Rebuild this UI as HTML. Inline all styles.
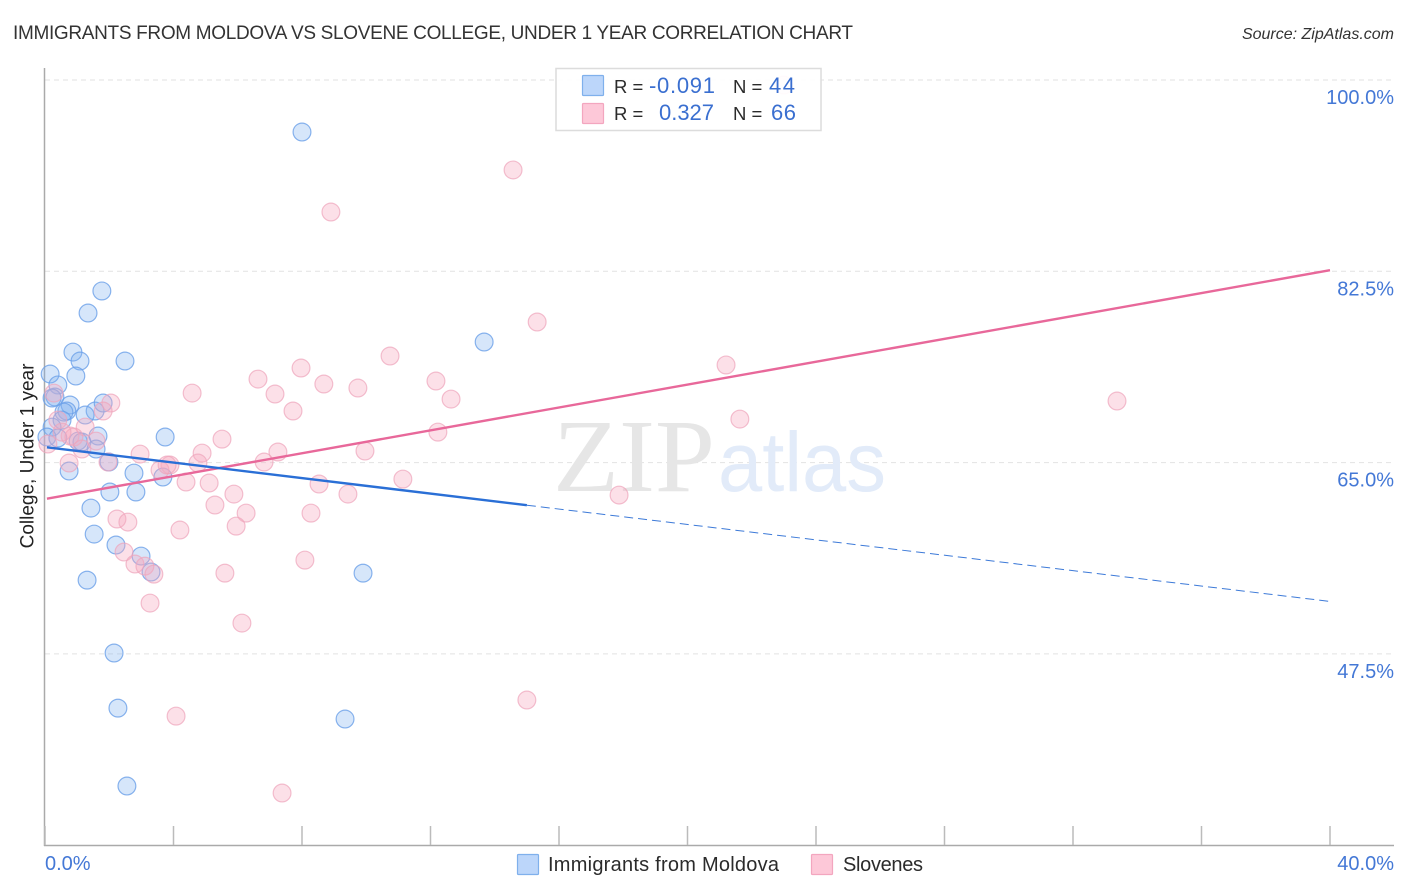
<!DOCTYPE html>
<html lang="en">
<head>
<meta charset="utf-8">
<title>Immigrants from Moldova vs Slovene College, Under 1 Year Correlation Chart</title>
<style>
  html, body { margin: 0; padding: 0; background: #fff; }
  body { width: 1406px; height: 892px; overflow: hidden; font-family: "Liberation Sans", sans-serif; }
  svg { display: block; }
  text { font-family: "Liberation Sans", sans-serif; }
</style>
</head>
<body>
<svg id="chart" width="1406" height="892" viewBox="0 0 1406 892" xmlns="http://www.w3.org/2000/svg">
  <rect x="0" y="0" width="1406" height="892" fill="#ffffff"/>
  <text x="13" y="39" font-size="19" fill="#333333" textLength="840">IMMIGRANTS FROM MOLDOVA VS SLOVENE COLLEGE, UNDER 1 YEAR CORRELATION CHART</text>
  <text x="1394" y="39" font-size="16" font-style="italic" fill="#333" text-anchor="end">Source: ZipAtlas.com</text>

  <g id="grid"></g>

  <g>
    <text x="553" y="491" font-size="104" fill="#e6e6e6" style="font-family:'Liberation Serif',serif" textLength="162" lengthAdjust="spacingAndGlyphs">ZIP</text>
    <text x="718" y="491" font-size="84" fill="#e2ebf9" textLength="168" lengthAdjust="spacingAndGlyphs">atlas</text>
  </g>

  <g id="axes">
    <line x1="44.5" y1="68" x2="44.5" y2="846" stroke="#aaaaaa" stroke-width="1.5"/>
    <line x1="44" y1="845.5" x2="1394" y2="845.5" stroke="#aaaaaa" stroke-width="1.5"/>
  </g>
  <g id="x-ticks"></g>
  <g id="y-labels"></g>
  <g id="x-labels"></g>

  <text transform="translate(33.5,456) rotate(-90)" font-size="19" fill="#222" text-anchor="middle">College, Under 1 year</text>

  <g id="points-moldova"></g>
  <g id="points-slovene"></g>
  <g id="trends"></g>

  <g>
    <rect x="556" y="68.5" width="265" height="62" fill="#ffffff" fill-opacity="0.93" stroke="#dcdcdc" stroke-width="1.5"/>
    <rect x="582.5" y="75.5" width="21" height="20" rx="1" fill="#bcd6fa" stroke="#7fb0ec" stroke-width="1.2"/>
    <rect x="582.5" y="103.5" width="21" height="20" rx="1" fill="#fdc8d8" stroke="#f3a6bf" stroke-width="1.2"/>
    <text x="614" y="93" font-size="18.5" fill="#2b2b2b">R =</text>
    <text x="649" y="93" font-size="22" fill="#3a6fd0" textLength="66">-0.091</text>
    <text x="733" y="93" font-size="18.5" fill="#2b2b2b">N =</text>
    <text x="769" y="93" font-size="22" fill="#3a6fd0" textLength="26">44</text>
    <text x="614" y="120" font-size="18.5" fill="#2b2b2b">R =</text>
    <text x="659" y="120" font-size="22" fill="#3a6fd0" textLength="55">0.327</text>
    <text x="733" y="120" font-size="18.5" fill="#2b2b2b">N =</text>
    <text x="771" y="120" font-size="22" fill="#3a6fd0" textLength="25">66</text>
  </g>

  <g>
    <rect x="517.5" y="854.5" width="21" height="20" rx="1" fill="#bcd6fa" stroke="#7fb0ec" stroke-width="1.2"/>
    <text x="548" y="871" font-size="20" fill="#2b2b2b" textLength="231">Immigrants from Moldova</text>
    <rect x="811.5" y="854.5" width="21" height="20" rx="1" fill="#fdc8d8" stroke="#f3a6bf" stroke-width="1.2"/>
    <text x="843" y="871" font-size="20" fill="#2b2b2b" textLength="80">Slovenes</text>
  </g>
</svg>

<script>
const moldovaX = [8.00,1.77,1.34,0.87,1.09,2.49,0.96,0.16,0.40,0.31,0.78,0.68,0.59,1.56,1.81,1.25,0.53,0.22,1.65,3.74,0.06,0.40,1.03,1.15,1.59,1.99,0.75,2.77,3.67,2.02,2.83,1.43,1.53,2.21,2.99,3.30,1.31,9.90,2.15,2.27,9.34,2.55,13.67,0.22];
const moldovaY = [95.24,80.70,78.68,75.11,74.29,74.29,72.92,73.10,72.10,71.00,70.27,69.72,69.62,69.72,70.45,69.35,68.89,68.25,67.43,67.34,67.34,67.25,66.97,66.88,66.24,65.05,64.23,64.04,63.68,62.31,62.31,60.84,58.46,57.46,56.45,54.99,54.25,54.89,47.58,42.54,41.54,35.41,76.03,70.91];
const sloveneX = [14.57,8.90,15.32,21.20,10.74,7.97,6.63,7.16,8.68,9.74,4.58,12.17,12.64,7.72,33.37,21.63,2.05,1.81,0.28,0.40,1.25,12.23,5.51,7.25,4.89,2.96,9.96,6.82,4.76,3.89,3.58,4.39,5.11,8.53,11.14,9.43,5.88,5.29,6.26,8.28,17.87,2.24,2.58,5.95,4.20,2.46,8.09,2.80,3.11,3.39,5.60,3.27,6.13,15.00,4.08,7.38,0.75,0.09,0.78,0.90,1.15,1.59,1.96,0.53,3.80,23.00];
const sloveneY = [91.77,87.92,77.86,73.93,74.75,73.65,72.64,71.27,72.19,71.82,71.36,72.46,70.81,69.72,70.63,68.98,70.45,69.72,71.36,68.89,68.25,67.79,67.15,65.97,65.87,65.78,66.06,65.05,64.96,64.78,64.32,63.22,63.13,63.04,63.49,62.12,62.12,61.12,60.38,60.38,62.03,59.84,59.56,59.19,58.83,56.82,56.08,55.72,55.53,54.80,54.89,52.15,50.32,43.28,41.81,34.77,64.96,66.70,67.43,67.34,66.24,66.97,65.05,67.79,64.78,99.54];
const moldovaTrendX = [0.06, 15, 40];
const moldovaTrendY = [66.4, 61.1, 52.3];
const sloveneTrendX = [0.06, 40];
const sloveneTrendY = [61.7, 82.6];
const yTickValues = [100, 82.5, 65, 47.5];
const yTickLabels = ["100.0%", "82.5%", "65.0%", "47.5%"];
const xTickValues = [0, 4, 8, 12, 16, 20, 24, 28, 32, 36, 40];
const xEdgeValues = [0, 40];
const xEdgeLabels = ["0.0%", "40.0%"];

const SVG_NS = "http://www.w3.org/2000/svg";
function xScale(v) { return 45 + v * (1285 / 40); }
function yScale(v) { return 80 + (100 - v) * (191.3 / 17.5); }
function make(tag, attrs, parent) {
  const el = document.createElementNS(SVG_NS, tag);
  Object.keys(attrs).forEach(function (k) { el.setAttribute(k, attrs[k]); });
  parent.appendChild(el);
  return el;
}

const gridG = document.getElementById("grid");
yTickValues.forEach(function (v) {
  const el = make("line", { x1: 45, x2: 1394, y1: yScale(v), y2: yScale(v), stroke: "#e2e2e2", "stroke-width": 1, "stroke-dasharray": "5 4" }, gridG);
  
  
});

const xTicksG = document.getElementById("x-ticks");
xTickValues.forEach(function (v) {
  const el = make("line", { x1: xScale(v), x2: xScale(v), y1: 826, y2: 845, stroke: "#bbbbbb", "stroke-width": 1.5 }, xTicksG);
  
  
});

const yLabelsG = document.getElementById("y-labels");
yTickValues.forEach(function (v, i) {
  const el = make("text", { x: 1394, y: yScale(v) + 24, "font-size": 20, fill: "#4478d6", "text-anchor": "end" }, yLabelsG);
  el.textContent = yTickLabels[i];
  
  
});

const xLabelsG = document.getElementById("x-labels");
xEdgeValues.forEach(function (v, i) {
  const el = make("text", { x: i === 0 ? xScale(v) : 1394, y: 870, "font-size": 20, fill: "#4478d6", "text-anchor": i === 0 ? "start" : "end" }, xLabelsG);
  el.textContent = xEdgeLabels[i];
  
  
});

const moldovaG = document.getElementById("points-moldova");
moldovaX.forEach(function (v, i) {
  const el = make("circle", { cx: xScale(v), cy: yScale(moldovaY[i]), r: 8.9, fill: "#7fb0ee", "fill-opacity": 0.32, stroke: "#6ba0e8", "stroke-opacity": 0.8, "stroke-width": 1.2 }, moldovaG);
  
  
});

const sloveneG = document.getElementById("points-slovene");
sloveneX.forEach(function (v, i) {
  const el = make("circle", { cx: xScale(v), cy: yScale(sloveneY[i]), r: 8.9, fill: "#f8a8c0", "fill-opacity": 0.36, stroke: "#eea4bb", "stroke-opacity": 0.7, "stroke-width": 1.2 }, sloveneG);
  
  
});

const trendsG = document.getElementById("trends");
const pinkTrend = make("line", { x1: xScale(sloveneTrendX[0]), y1: yScale(sloveneTrendY[0]), x2: xScale(sloveneTrendX[1]), y2: yScale(sloveneTrendY[1]), stroke: "#e8689a", "stroke-width": 2.4 }, trendsG);


const blueTrend = make("line", { x1: xScale(moldovaTrendX[0]), y1: yScale(moldovaTrendY[0]), x2: xScale(moldovaTrendX[1]), y2: yScale(moldovaTrendY[1]), stroke: "#2a6fd6", "stroke-width": 2.4 }, trendsG);


const blueDash = make("line", { x1: xScale(moldovaTrendX[1]), y1: yScale(moldovaTrendY[1]), x2: xScale(moldovaTrendX[2]), y2: yScale(moldovaTrendY[2]), stroke: "#3d7ad8", "stroke-width": 1, "stroke-dasharray": "9 5" }, trendsG);


</script>
</body>
</html>
